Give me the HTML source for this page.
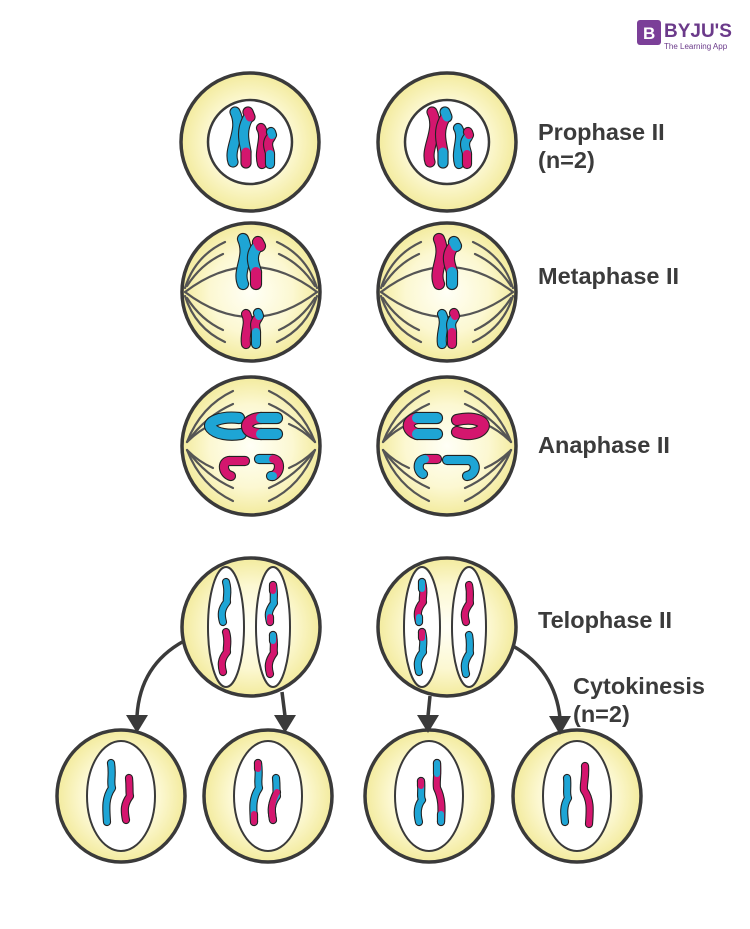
<!DOCTYPE html>
<html><head><meta charset="utf-8"><style>
html,body{margin:0;padding:0;background:#fff;}
svg{display:block}
text{font-family:"Liberation Sans",Arial,sans-serif;font-weight:bold;fill:#3b3b3b;font-size:23.5px}
</style></head><body>
<svg width="750" height="929" viewBox="0 0 750 929" xmlns="http://www.w3.org/2000/svg">
<defs>
<radialGradient id="g" cx="50%" cy="50%" r="50%">
<stop offset="0" stop-color="#fffff6"/><stop offset="0.6" stop-color="#fcf8d2"/><stop offset="1" stop-color="#f3eb9e"/>
</radialGradient>
</defs>
<g id="all"></g>
<!-- logo -->
<rect x="637" y="20" width="24" height="25" rx="3" fill="#7b3f98"/>
<text x="643" y="39" style="font-size:17px;fill:#fff">B</text>
<text x="664" y="37" style="font-size:19px;fill:#6b3a8a">BYJU'S</text>
<text x="664" y="49" style="font-size:8px;font-weight:normal;fill:#6b3a8a">The Learning App</text>

<text x="538" y="140">Prophase II</text>
<text x="538" y="168">(n=2)</text>
<text x="538" y="284">Metaphase II</text>
<text x="538" y="453">Anaphase II</text>
<text x="538" y="628">Telophase II</text>
<text x="573" y="694">Cytokinesis</text>
<text x="573" y="722">(n=2)</text>

<g fill="none" stroke="#3a3a3a" stroke-width="3.5">
<path d="M184 641 Q140 665 137 716"/>
<path d="M282 692 L285 716"/>
<path d="M430 696 L428 716"/>
<path d="M513 646 Q555 670 560 718"/>
</g>
<g fill="#3a3a3a">
<path d="M126 715 L148 715 L137 733Z"/>
<path d="M274 715 L296 715 L285 733Z"/>
<path d="M417 715 L439 715 L428 733Z"/>
<path d="M549 716 L571 716 L560 735Z"/>
</g>
</svg>
<script>
var B="#1ea5d5",P="#d4166e";
var out="";
function ch(segs,w){w=w||8;var s="";
 segs.forEach(function(a){s+='<path d="'+a[0]+'" fill="none" stroke="#222" stroke-width="'+(w+2.2)+'" stroke-linecap="round" stroke-linejoin="round"/>';});
 segs.forEach(function(a){s+='<path d="'+a[0]+'" fill="none" stroke="'+a[1]+'" stroke-width="'+w+'" stroke-linecap="round" stroke-linejoin="round"/>';});
 return s;}
function cell(x,y,inner,rx,ry){rx=rx||69;ry=ry||rx;
 return '<g transform="translate('+x+','+y+')"><ellipse rx="'+rx+'" ry="'+ry+'" fill="url(#g)" stroke="#3a3a3a" stroke-width="3.5"/>'+inner+'</g>';}
function fib(d){return '<path d="'+d+'" fill="none" stroke="#555" stroke-width="2.2" stroke-linecap="round"/>';}
function pro(c1,c2){
 return '<circle r="42" fill="#fff" stroke="#3a3a3a" stroke-width="2.5"/>'+
 ch([["M-15,-30 C-6,-12 -22,6 -17,20",c1]],9)+
 ch([["M-2,-24 C-10,-10 -5,2 -4,10",c1],["M-4,10 L-4,21",c2],["M-2,-30 L0,-25",c2]],9)+
 ch([["M11,-14 C17,-4 8,8 12,22",c2]],8)+
 ch([["M21,-5 C15,2 20,8 20,12",c2],["M20,12 L20,22",c1],["M21,-10 L22,-7",c1]],8);
}
out+=cell(250,142,pro(B,P));
out+=cell(447,142,pro(P,B));
function metaF(){var s="";
 s+=fib("M-66,0 Q0,-50 66,0")+fib("M-66,0 Q0,50 66,0");
 [[-1,1],[1,1],[-1,-1],[1,-1]].forEach(function(q){var a=q[0],b=q[1];
  s+=fib("M"+(-66*a)+","+(-4*b)+" Q"+(-56*a)+","+(-36*b)+" "+(-26*a)+","+(-50*b));
  s+=fib("M"+(-64*a)+","+(-6*b)+" Q"+(-50*a)+","+(-28*b)+" "+(-28*a)+","+(-38*b));});
 return s;}
function meta(c1,c2){
 return metaF()+
 ch([["M-8,-53 C0,-35 -14,-22 -8,-8",c1]],10)+
 ch([["M6,-45 C-2,-35 4,-25 5,-20",c1],["M5,-20 L5,-8",c2],["M7,-50 L9,-46",c2]],10)+
 ch([["M-5,22 C0,32 -7,40 -5,52",c2]],8)+
 ch([["M7,26 C2,32 5,36 5,40",c2],["M5,40 L5,52",c1],["M7,21 L8,24",c1]],8);
}
out+=cell(251,292,meta(B,P));
out+=cell(447,292,meta(P,B));
function anaF(){var s="";
 [[-1,1],[1,1],[-1,-1],[1,-1]].forEach(function(q){var a=q[0],b=q[1];
  s+=fib("M"+(-64*a)+","+(-4*b)+" Q"+(-50*a)+","+(-40*b)+" "+(-18*a)+","+(-55*b));
  s+=fib("M"+(-64*a)+","+(-4*b)+" Q"+(-45*a)+","+(-30*b)+" "+(-18*a)+","+(-42*b));
  s+=fib("M"+(-64*a)+","+(-4*b)+" Q"+(-52*a)+","+(-16*b)+" "+(-38*a)+","+(-22*b));});
 return s;}
out+=cell(251,446,anaF()+
 ch([["M-12,-28 C-30,-30 -45,-24 -40,-18 C-35,-12 -22,-10 -10,-12",B]],10)+
 ch([["M10,-28 C2,-28 -4,-24 -4,-20",P],["M10,-28 L26,-28",B],["M-4,-20 C-4,-15 2,-12 10,-12",P],["M10,-12 L26,-12",B]],10)+
 ch([["M-6,15 L-22,15",P],["M-22,15 C-30,16 -28,28 -20,30",P]],8)+
 ch([["M8,13 L22,13",B],["M22,13 C30,14 30,26 22,30",P],["M22,30 L20,30",B]],8));
out+=cell(447,446,anaF()+
 ch([["M-30,-28 C-40,-26 -42,-16 -30,-12",P],["M-30,-28 L-10,-28",B],["M-30,-12 L-10,-12",B]],10)+
 ch([["M10,-26 C28,-30 40,-24 36,-18 C32,-12 20,-10 10,-14",P]],10)+
 ch([["M-10,13 L-22,13",P],["M-22,13 C-30,14 -30,25 -24,28",B]],8)+
 ch([["M0,14 L22,14 C30,16 30,28 20,30",B]],8));
function telo(a){var s='<ellipse cx="-25" cy="0" rx="18" ry="60" fill="#fff" stroke="#3a3a3a" stroke-width="2"/><ellipse cx="22" cy="0" rx="17" ry="60" fill="#fff" stroke="#3a3a3a" stroke-width="2"/>';
 s+=ch(a[0],6)+ch(a[1],6)+ch(a[2],6)+ch(a[3],6);return s;}
var w1="M-25,-45 C-22,-35 -25,-30 -24,-25 C-30,-18 -30,-12 -28,-5";
var w2="M-25,5 C-22,15 -25,20 -24,25 C-30,32 -30,38 -28,45";
var w3="M22,-42 C24,-32 22,-28 23,-24 C17,-16 17,-12 19,-5";
var w4="M22,8 C24,18 22,22 23,26 C17,34 17,40 19,47";
out+=cell(251,627,telo([[[w1,B]],[[w2,P]],[[w3,B],["M22,-42 L22,-36",P],["M19,-10 L19,-5",P]],[[w4,P],["M22,8 L22,14",B]]]));
out+=cell(447,627,telo([[[w1,P],["M-25,-45 L-25,-38",B],["M-28,-10 L-28,-5",B]],[[w2,B],["M-25,5 L-25,11",P]],[[w3,P]],[[w4,B]]]));
function bot(a){return '<ellipse rx="34" ry="55" fill="#fff" stroke="#3a3a3a" stroke-width="2"/>'+ch(a[0],6)+ch(a[1],6);}
var L="M-10,-33 C-8,-20 -11,-15 -9,-8 C-16,2 -15,12 -14,26";
var R="M8,-18 C9,-8 8,-4 9,0 C3,8 3,14 5,24";
out+=cell(121,796,bot([[[L,B]],[[R,P]]]),64,66);
out+=cell(268,796,bot([[[L,B],["M-10,-33 L-10,-27",P],["M-14,18 L-14,26",P]],[[R,B],["M9,-4 C3,8 3,14 5,24",P]]]),64,66);
out+=cell(429,796,bot([[["M-8,-15 C-7,-5 -9,0 -7,4 C-12,10 -12,18 -10,26",B],["M-8,-15 L-8,-10",P]],[["M8,-33 C9,-20 7,-15 8,-8 C13,2 13,12 12,26",P],["M8,-33 L8,-22",B],["M12,18 L12,26",B]]]),64,66);
out+=cell(577,796,bot([[["M-10,-18 C-9,-8 -11,-3 -9,2 C-14,10 -13,18 -12,26",B]],[["M8,-30 C9,-18 6,-12 7,-6 C14,4 13,14 12,28",P]]]),64,66);
document.getElementById("all").innerHTML=out;
</script>
</body></html>
